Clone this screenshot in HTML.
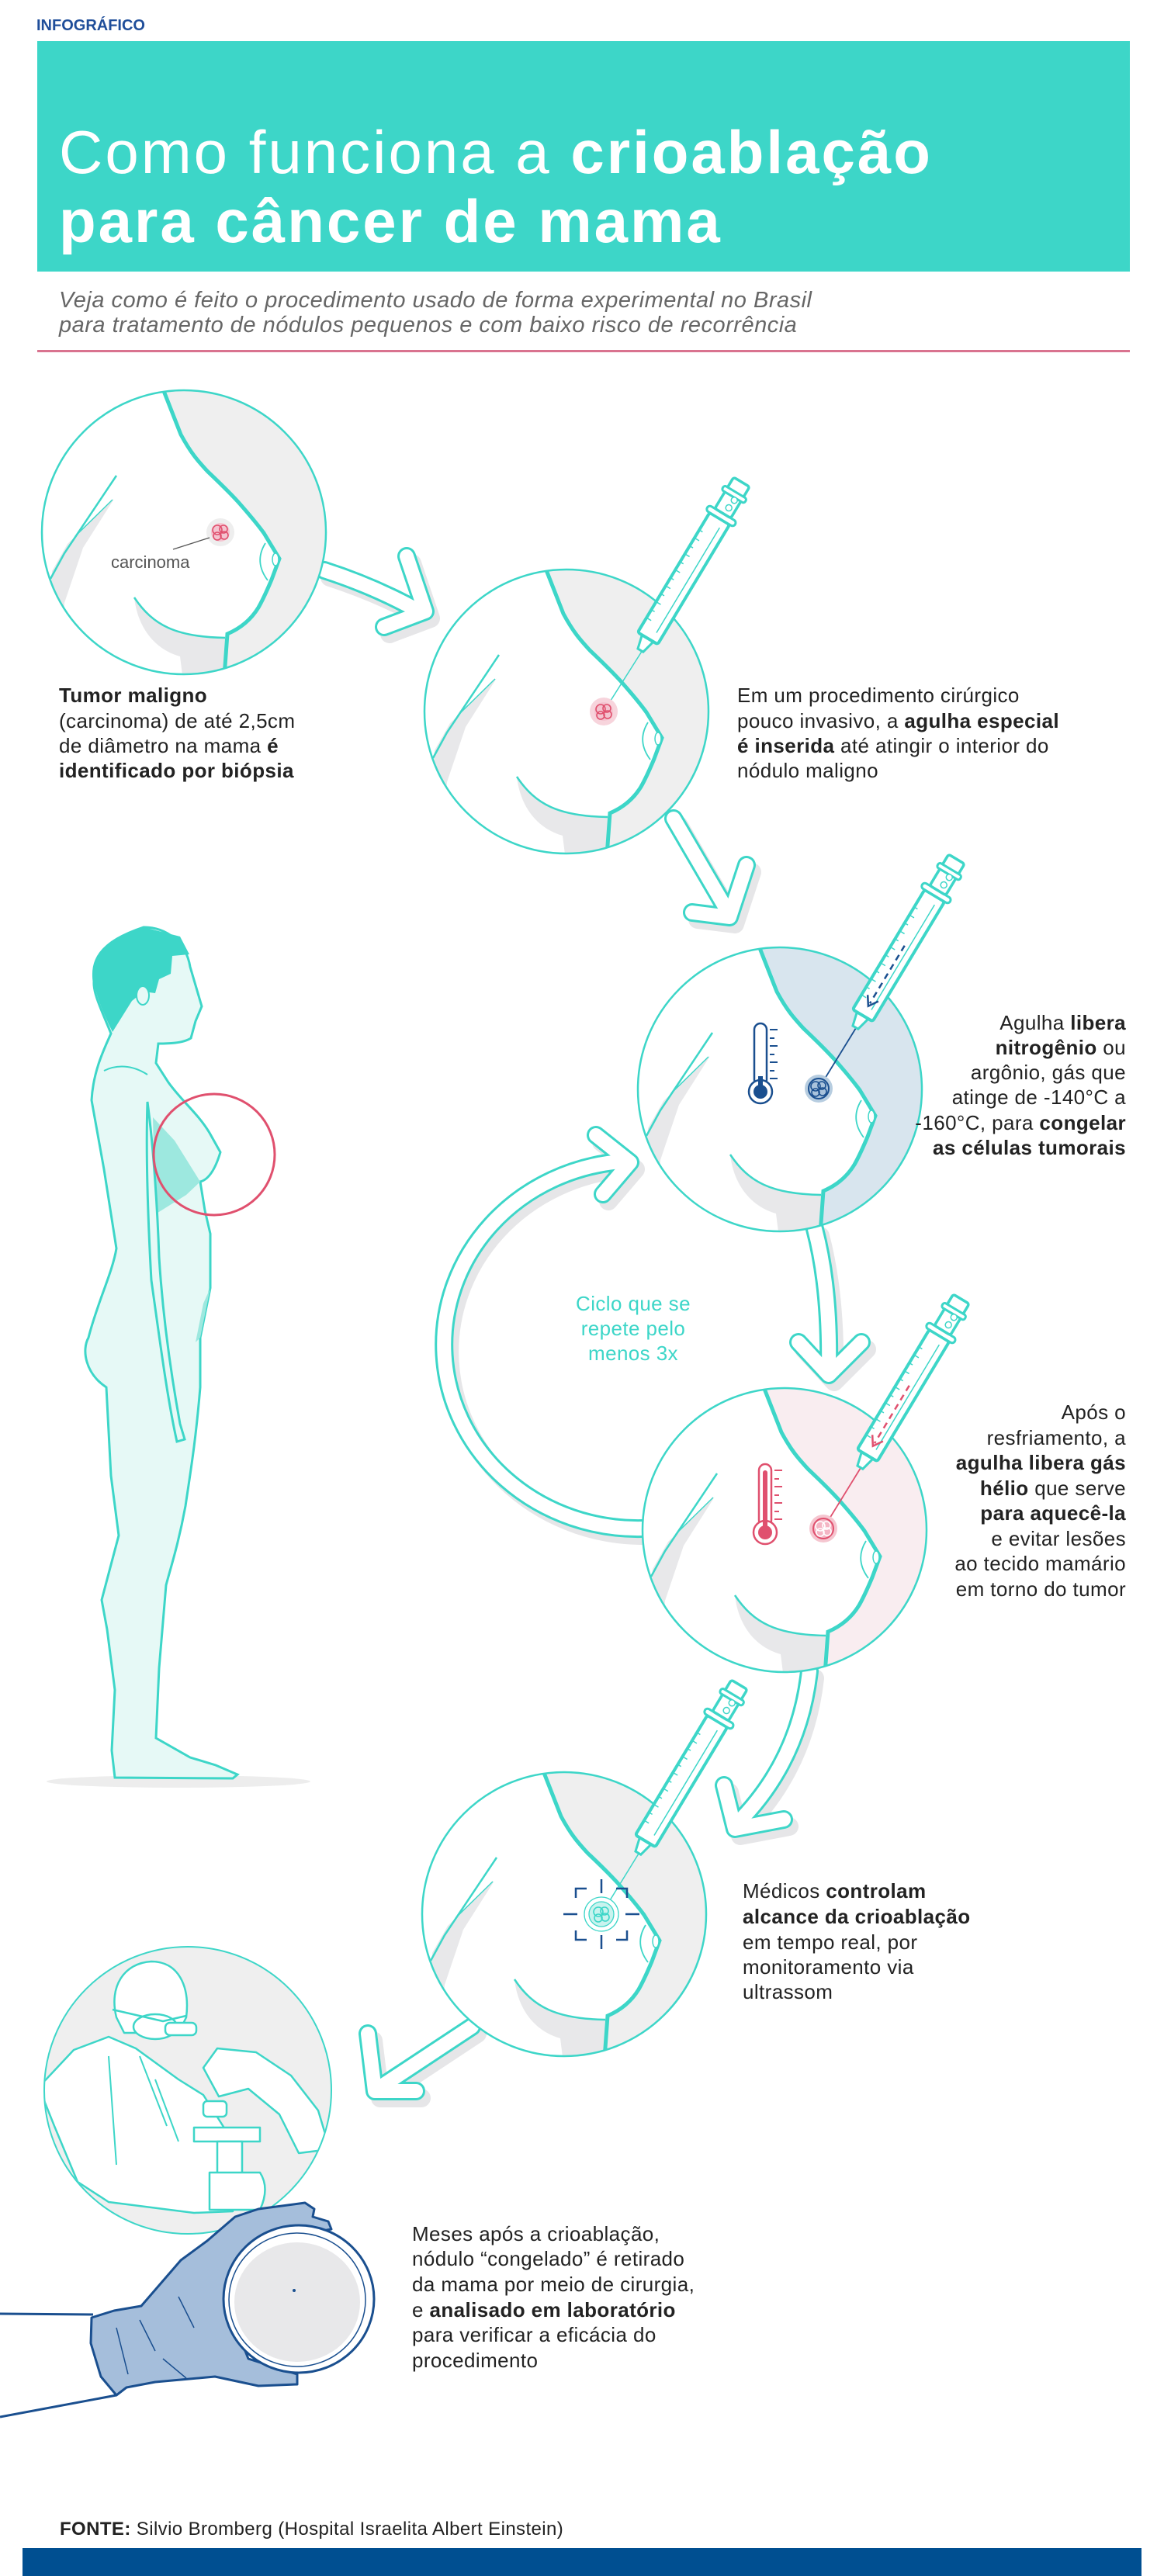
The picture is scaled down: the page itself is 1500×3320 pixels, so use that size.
<!DOCTYPE html>
<html><head><meta charset="utf-8"><style>
html,body{margin:0;padding:0;background:#fff;}
svg{display:block;}
text{font-family:"Liberation Sans",sans-serif;}
</style></head><body>
<svg width="1500" height="3320" viewBox="0 0 1500 3320" xmlns="http://www.w3.org/2000/svg">
<defs>
<clipPath id="cc"><circle r="183"/></clipPath>
<g id="br">
 <circle r="183" fill="#fff"/>
 <g clip-path="url(#cc)">
  <path d="M-34,-200 L-30,-185 L-4,-126 C10,-100 20,-90 30,-79 C50,-60 60,-50 70,-39 C85,-22 95,-10 103,1 L123,34 L113,61 C105,80 100,90 96,97 C85,115 70,125 56,131 L51,200 L200,200 L200,-200 Z"/>
  <path d="M-64,84 C-40,125 -10,131 53,136 L51,200 L0,200 L-5,160 C-40,150 -60,120 -64,84Z" fill="#e8e8ea"/>
  <path d="M-90,-43 L-130,20 L-154,91 L-160,200 L-178,200 L-170,50 L-150,15Z" fill="#e8e8ea"/>
  <path d="M-33,-200 L-4,-126 C10,-100 20,-90 30,-79 C50,-60 60,-50 70,-39 C85,-22 95,-10 103,1 L123,34 L113,61 C105,80 100,90 96,97 C85,115 70,125 56,131 L51,200" fill="none" stroke="#3dd6c8" stroke-width="5"/>
  <path d="M-64,84 C-40,120 -10,135 53,136" fill="none" stroke="#3dd6c8" stroke-width="2.5"/>
  <path d="M-87,-73 L-154,27 L-172,60" fill="none" stroke="#3dd6c8" stroke-width="2.5"/>
  <path d="M-92,-42 L-140,5" fill="none" stroke="#3dd6c8" stroke-width="1.5"/>
  <path d="M105,14 Q90,38 108,62" fill="none" stroke="#3dd6c8" stroke-width="1.8"/>
  <ellipse cx="118" cy="35" rx="4" ry="8" fill="#fff" stroke="#3dd6c8" stroke-width="1.5"/>
 </g>
 <circle r="183" fill="none" stroke="#3dd6c8" stroke-width="2.5"/>
</g>
<g id="syr" stroke="#3dd6c8" fill="#fff">
 <path d="M-4,-92 L-9,-112 L9,-112 L4,-92 Z" stroke-width="3"/>
 <rect x="-15" y="-290" width="30" height="180" rx="3" stroke-width="4"/>
 <line x1="6" y1="-122" x2="6" y2="-280" stroke-width="1.5"/>
 <path d="M-15,-132 h7 M-15,-144 h5 M-15,-156 h7 M-15,-168 h5 M-15,-180 h7 M-15,-192 h5 M-15,-204 h7 M-15,-216 h5 M-15,-228 h7 M-15,-240 h5 M-15,-252 h7 M-15,-264 h5" stroke-width="1.5"/>
 <rect x="-21" y="-298" width="42" height="8" rx="4" stroke-width="3"/>
 <rect x="-12" y="-345" width="24" height="47" rx="3" stroke-width="3.5"/>
 <rect x="-17" y="-330" width="34" height="7" rx="3" stroke-width="3"/>
 <circle cx="3" cy="-308" r="4" stroke-width="1.5"/>
 <circle cx="4" cy="-320" r="4" stroke-width="1.5"/>
</g>
<g id="blob" fill="none" stroke-width="1.6">
 <circle cx="-4" cy="-3" r="6"/><circle cx="4" cy="-4" r="5"/><circle cx="5" cy="4" r="5"/><circle cx="-4" cy="5" r="5"/>
</g>
</defs>

<!-- header -->
<text x="47" y="39" font-size="20" font-weight="bold" fill="#1f4e9a">INFOGRÁFICO</text>
<rect x="48" y="53" width="1408" height="297" fill="#3dd6c8"/>
<text x="76" y="223" font-size="78" fill="#fff" letter-spacing="3">Como funciona a <tspan font-weight="bold">crioablação</tspan></text>
<text x="76" y="312" font-size="78" fill="#fff" font-weight="bold" letter-spacing="3">para câncer de mama</text>
<text x="76" y="396" font-size="29" font-style="italic" fill="#666" letter-spacing="0.5">Veja como é feito o procedimento usado de forma experimental no Brasil</text>
<text x="76" y="428" font-size="29" font-style="italic" fill="#666" letter-spacing="0.5">para tratamento de nódulos pequenos e com baixo risco de recorrência</text>
<rect x="48" y="451" width="1408" height="3" fill="#d9738f"/>

<!-- arrows shadows -->
<g fill="none" stroke="#e6e6e8" stroke-width="24" stroke-linecap="round" stroke-linejoin="round" transform="translate(7,9)">
 <path d="M418,735 Q480,755 535,785"/><path d="M524,717 L548,788 L495,808"/>
 <path d="M868,1055 L935,1170"/><path d="M962,1115 L940,1182 L892,1176"/>
 <path d="M1050,1584 Q1070,1660 1068,1765"/><path d="M1029,1730 L1068,1772 L1110,1730"/>
 <path d="M828,1970 A250 237 0 0 1 800,1497"/><path d="M768,1463 L812,1498 L777,1539"/>
 <path d="M1043,2154 Q1030,2270 950,2350"/><path d="M933,2301 L947,2357 L1010,2345"/>
 <path d="M608,2612 L490,2690"/><path d="M474,2621 L483,2695 L536,2695"/>
</g>
<g fill="none" stroke="#3dd6c8" stroke-width="24" stroke-linecap="round" stroke-linejoin="round">
 <path d="M418,735 Q480,755 535,785"/><path d="M524,717 L548,788 L495,808"/>
 <path d="M868,1055 L935,1170"/><path d="M962,1115 L940,1182 L892,1176"/>
 <path d="M1050,1584 Q1070,1660 1068,1765"/><path d="M1029,1730 L1068,1772 L1110,1730"/>
 <path d="M828,1970 A250 237 0 0 1 800,1497"/><path d="M768,1463 L812,1498 L777,1539"/>
 <path d="M1043,2154 Q1030,2270 950,2350"/><path d="M933,2301 L947,2357 L1010,2345"/>
 <path d="M608,2612 L490,2690"/><path d="M474,2621 L483,2695 L536,2695"/>
</g>
<g fill="none" stroke="#fff" stroke-width="18" stroke-linecap="round" stroke-linejoin="round">
 <path d="M418,735 Q480,755 535,785"/><path d="M524,717 L548,788 L495,808"/>
 <path d="M868,1055 L935,1170"/><path d="M962,1115 L940,1182 L892,1176"/>
 <path d="M1050,1584 Q1070,1660 1068,1765"/><path d="M1029,1730 L1068,1772 L1110,1730"/>
 <path d="M828,1970 A250 237 0 0 1 800,1497"/><path d="M768,1463 L812,1498 L777,1539"/>
 <path d="M1043,2154 Q1030,2270 950,2350"/><path d="M933,2301 L947,2357 L1010,2345"/>
 <path d="M608,2612 L490,2690"/><path d="M474,2621 L483,2695 L536,2695"/>
</g>

<!-- circle 1 -->
<use href="#br" x="237" y="686" fill="#efefef"/>
<circle cx="284" cy="686" r="18" fill="#eeeeee"/>
<circle cx="284" cy="686" r="12" fill="#f4c4d0"/>
<use href="#blob" x="284" y="686" stroke="#e0506e"/>
<line x1="223" y1="708" x2="270" y2="693" stroke="#555" stroke-width="1.3"/>
<text x="143" y="732" font-size="22" fill="#555">carcinoma</text>

<!-- circle 2 -->
<use href="#br" x="730" y="917" fill="#efefef"/>
<line x1="778" y1="917" x2="828" y2="838" stroke="#3dd6c8" stroke-width="1.5"/>
<circle cx="778" cy="917" r="18" fill="#f7d4dc"/>
<circle cx="778" cy="917" r="12" fill="#f4c4d0"/>
<use href="#blob" x="778" y="917" stroke="#e0506e"/>
<g transform="translate(778,917) rotate(31)"><use href="#syr"/></g>

<!-- circle 3 -->
<use href="#br" x="1005" y="1404" fill="#d8e5ee"/>
<line x1="1055" y1="1403" x2="1103" y2="1325" stroke="#1a4f8f" stroke-width="1.8"/>
<circle cx="1055" cy="1403" r="18" fill="#b7cde0"/>
<circle cx="1055" cy="1403" r="13" fill="#a9c3dc" stroke="#1a4f8f" stroke-width="2"/>
<use href="#blob" x="1055" y="1403" stroke="#1a4f8f"/>
<g transform="translate(1055,1403) rotate(31)"><use href="#syr"/>
 <line x1="0" y1="-215" x2="0" y2="-128" stroke="#1a4f8f" stroke-width="2.5" stroke-dasharray="8,6"/>
 <path d="M-8,-136 L0,-124 L8,-136" fill="none" stroke="#1a4f8f" stroke-width="2.5"/></g>
<rect x="972" y="1319" width="16" height="80" rx="8" fill="#fff" stroke="#1a4f8f" stroke-width="2.5"/>
<circle cx="980" cy="1407" r="15" fill="#fff" stroke="#1a4f8f" stroke-width="2.5"/>
<rect x="977" y="1387" width="6" height="20" fill="#1a4f8f"/>
<circle cx="980" cy="1407" r="9" fill="#1a4f8f"/>
<path d="M992,1327h10M992,1338h6M992,1348h10M992,1359h6M992,1369h10M992,1380h6M992,1390h10" stroke="#1a4f8f" stroke-width="2"/>

<!-- circle 4 -->
<use href="#br" x="1011" y="1972" fill="#f9edf0"/>
<line x1="1061" y1="1970" x2="1109" y2="1892" stroke="#e0506e" stroke-width="1.8"/>
<circle cx="1061" cy="1970" r="18" fill="#f5c6d0"/>
<circle cx="1061" cy="1970" r="13" fill="#f4b5c4" stroke="#e0506e" stroke-width="2"/>
<use href="#blob" x="1061" y="1970" stroke="#fff"/>
<g transform="translate(1061,1970) rotate(31)"><use href="#syr"/>
 <line x1="0" y1="-215" x2="0" y2="-128" stroke="#e0506e" stroke-width="2.5" stroke-dasharray="8,6"/>
 <path d="M-8,-136 L0,-124 L8,-136" fill="none" stroke="#e0506e" stroke-width="2.5"/></g>
<rect x="978" y="1887" width="16" height="80" rx="8" fill="#fff" stroke="#e0506e" stroke-width="2.5"/>
<circle cx="986" cy="1975" r="15" fill="#fff" stroke="#e0506e" stroke-width="2.5"/>
<rect x="983" y="1895" width="6" height="80" rx="3" fill="#e0506e"/>
<circle cx="986" cy="1975" r="9" fill="#e0506e"/>
<path d="M998,1895h10M998,1906h6M998,1916h10M998,1927h6M998,1937h10M998,1948h6M998,1958h10" stroke="#e0506e" stroke-width="2"/>

<!-- circle 5 -->
<use href="#br" x="727" y="2467" fill="#efefef"/>
<line x1="775" y1="2467" x2="823" y2="2389" stroke="#3dd6c8" stroke-width="1.5"/>
<circle cx="775" cy="2467" r="22" fill="#fff" stroke="#3dd6c8" stroke-width="1.3"/>
<circle cx="775" cy="2467" r="16" fill="#c9f3ee" stroke="#3dd6c8" stroke-width="1.3"/>
<use href="#blob" x="775" y="2467" stroke="#3dd6c8"/>
<g transform="translate(775,2467) rotate(31)"><use href="#syr"/></g>
<g stroke="#1a4f8f" stroke-width="2.5" fill="none">
 <path d="M742,2446 v-12 h14 M794,2434 h14 v12 M742,2488 v12 h14 M794,2500 h14 v-12"/>
 <path d="M775,2422 v18 M775,2494 v18 M726,2467 h18 M806,2467 h18"/>
</g>

<!-- body figure -->
<ellipse cx="230" cy="2296" rx="170" ry="8" fill="#ededed"/>
<path d="M185,1195 C215,1195 240,1215 245,1246 L260,1297 L252,1316 L246,1338 C235,1345 215,1345 204,1345 L201,1370 L217,1395 C235,1420 255,1435 270,1460 L284,1485 C278,1505 270,1520 258,1523 L264,1560 L271,1590 L271,1660 L258,1724 L258,1788 C252,1860 245,1900 239,1941 C230,1990 220,2020 214,2043 L205,2150 L201,2240 L245,2265 L278,2275 L306,2287 L300,2292 L148,2291 L144,2256 L148,2178 L138,2100 L131,2062 L153,1979 L143,1902 L137,1788 C110,1770 105,1740 114,1724 C125,1680 145,1640 150,1609 L134,1507 L118,1418 C120,1380 135,1350 143,1332 C130,1300 120,1280 121,1265 C118,1240 125,1215 185,1195 Z" fill="#e6f9f6" stroke="#3dd6c8" stroke-width="3"/>
<path d="M197,1440 L225,1470 L258,1523 L240,1540 L200,1565 Z" fill="#9de8df"/>
<path d="M262,1680 L271,1660 L258,1724 L252,1730 Z" fill="#9de8df"/>
<path d="M121,1265 C118,1235 130,1210 185,1195 L232,1207 L244,1230 L222,1232 L220,1255 L205,1262 L200,1280 L185,1278 L170,1290 L145,1330 C135,1310 124,1285 121,1265 Z" fill="#3dd6c8"/>
<ellipse cx="184" cy="1283" rx="8" ry="12" fill="#e6f9f6" stroke="#3dd6c8" stroke-width="2"/>
<path d="M190,1420 C198,1480 203,1560 205,1620 C210,1700 222,1780 232,1835 L238,1855 L228,1858 C215,1800 205,1720 195,1650 C190,1560 188,1480 190,1420 Z" fill="#e6f9f6" stroke="#3dd6c8" stroke-width="3"/>
<path d="M134,1380 C150,1372 170,1372 190,1385" fill="none" stroke="#3dd6c8" stroke-width="2"/>
<circle cx="276" cy="1488" r="78" fill="none" stroke="#e0506e" stroke-width="3"/>

<!-- lab circle -->
<clipPath id="lc"><circle cx="242" cy="2694" r="184"/></clipPath>
<circle cx="242" cy="2694" r="185" fill="#efefef"/>
<g clip-path="url(#lc)" stroke="#3dd6c8" stroke-width="2.5" fill="#fff" stroke-linejoin="round">
 <path d="M50,2690 L95,2642 L140,2625 L175,2640 L230,2680 L262,2700 L300,2760 L300,2850 L250,2852 L140,2838 L100,2812 L70,2740 Z"/>
 <path d="M262,2665 L280,2640 L330,2645 L375,2675 L410,2720 L425,2770 L385,2775 L360,2725 L320,2692 L282,2702 Z"/>
 <path d="M150,2600 C140,2560 160,2530 195,2528 C230,2528 245,2560 240,2600 L230,2620 L160,2620 Z"/>
 <ellipse cx="200" cy="2612" rx="28" ry="16"/>
 <path d="M145,2590 L210,2605 L240,2598" fill="none"/>
 <rect x="213" y="2607" width="40" height="16" rx="6"/>
 <rect x="250" y="2742" width="85" height="18"/>
 <rect x="280" y="2760" width="32" height="45"/>
 <rect x="262" y="2708" width="30" height="20" rx="5"/>
 <path d="M270,2800 L335,2800 Q348,2820 335,2848 L270,2848 Z"/>
 <path d="M180,2650 L215,2740 M140,2650 L150,2790 M200,2680 L230,2760" fill="none" stroke-width="2"/>
</g>
<circle cx="242" cy="2694" r="185" fill="none" stroke="#3dd6c8" stroke-width="2"/>

<!-- hand and dish -->
<path d="M0,2982 L120,2983" stroke="#1a4f8f" stroke-width="3" fill="none"/>
<path d="M0,3115 L150,3087" stroke="#1a4f8f" stroke-width="3" fill="none"/>
<path d="M118,2987 L147,2978 L182,2972 L233,2913 L267,2888 L303,2857 L333,2847 L393,2839 L405,2847 L403,2857 L423,2863 L427,2873 L390,2880 L330,2920 L300,2990 L320,3040 L383,3060 L383,3073 L333,3075 L277,3063 L200,3070 L163,3077 L150,3087 L130,3063 L117,3020 Z" fill="#a5bedb" stroke="#1a4f8f" stroke-width="3" stroke-linejoin="round"/>
<path d="M180,2990 L200,3030 M230,2960 L250,3000 M150,3000 L165,3060 M210,3040 L240,3065" stroke="#1a4f8f" stroke-width="1.5" fill="none"/>
<ellipse cx="385" cy="2963" rx="97" ry="95" fill="#fff" stroke="#1a4f8f" stroke-width="3"/>
<ellipse cx="383" cy="2964" rx="88" ry="86" fill="none" stroke="#1a4f8f" stroke-width="1.5"/>
<ellipse cx="383" cy="2967" rx="81" ry="77" fill="#e8e8ea"/>
<circle cx="379" cy="2952" r="2" fill="#1a4f8f"/>

<!-- texts -->
<g font-size="26" fill="#222" letter-spacing="0.4">
<text x="76" y="905"><tspan font-weight="bold">Tumor maligno</tspan></text>
<text x="76" y="938">(carcinoma) de até 2,5cm</text>
<text x="76" y="970">de diâmetro na mama <tspan font-weight="bold">é</tspan></text>
<text x="76" y="1002" font-weight="bold">identificado por biópsia</text>

<text x="950" y="905">Em um procedimento cirúrgico</text>
<text x="950" y="938">pouco invasivo, a <tspan font-weight="bold">agulha especial</tspan></text>
<text x="950" y="970"><tspan font-weight="bold">é inserida</tspan> até atingir o interior do</text>
<text x="950" y="1002">nódulo maligno</text>

<g text-anchor="end">
<text x="1451" y="1327">Agulha <tspan font-weight="bold">libera</tspan></text>
<text x="1451" y="1359"><tspan font-weight="bold">nitrogênio</tspan> ou</text>
<text x="1451" y="1391">argônio, gás que</text>
<text x="1451" y="1423">atinge de -140°C a</text>
<text x="1451" y="1456">-160°C, para <tspan font-weight="bold">congelar</tspan></text>
<text x="1451" y="1488" font-weight="bold">as células tumorais</text>

<text x="1451" y="1829">Após o</text>
<text x="1451" y="1862">resfriamento, a</text>
<text x="1451" y="1894" font-weight="bold">agulha libera gás</text>
<text x="1451" y="1927"><tspan font-weight="bold">hélio</tspan> que serve</text>
<text x="1451" y="1959" font-weight="bold">para aquecê-la</text>
<text x="1451" y="1992">e evitar lesões</text>
<text x="1451" y="2024">ao tecido mamário</text>
<text x="1451" y="2057">em torno do tumor</text>
</g>

<g text-anchor="middle" fill="#3dd6c8">
<text x="816" y="1689">Ciclo que se</text>
<text x="816" y="1721">repete pelo</text>
<text x="816" y="1753">menos 3x</text>
</g>

<text x="957" y="2446">Médicos <tspan font-weight="bold">controlam</tspan></text>
<text x="957" y="2479" font-weight="bold">alcance da crioablação</text>
<text x="957" y="2512">em tempo real, por</text>
<text x="957" y="2544">monitoramento via</text>
<text x="957" y="2576">ultrassom</text>

<text x="531" y="2888">Meses após a crioablação,</text>
<text x="531" y="2920">nódulo “congelado” é retirado</text>
<text x="531" y="2953">da mama por meio de cirurgia,</text>
<text x="531" y="2986">e <tspan font-weight="bold">analisado em laboratório</tspan></text>
<text x="531" y="3018">para verificar a eficácia do</text>
<text x="531" y="3051">procedimento</text>

<text x="77" y="3267" font-size="24"><tspan font-weight="bold">FONTE:</tspan>  Silvio Bromberg (Hospital Israelita Albert Einstein)</text>
</g>
<rect x="29" y="3284" width="1442" height="36" fill="#004f91"/>
</svg>
</body></html>
